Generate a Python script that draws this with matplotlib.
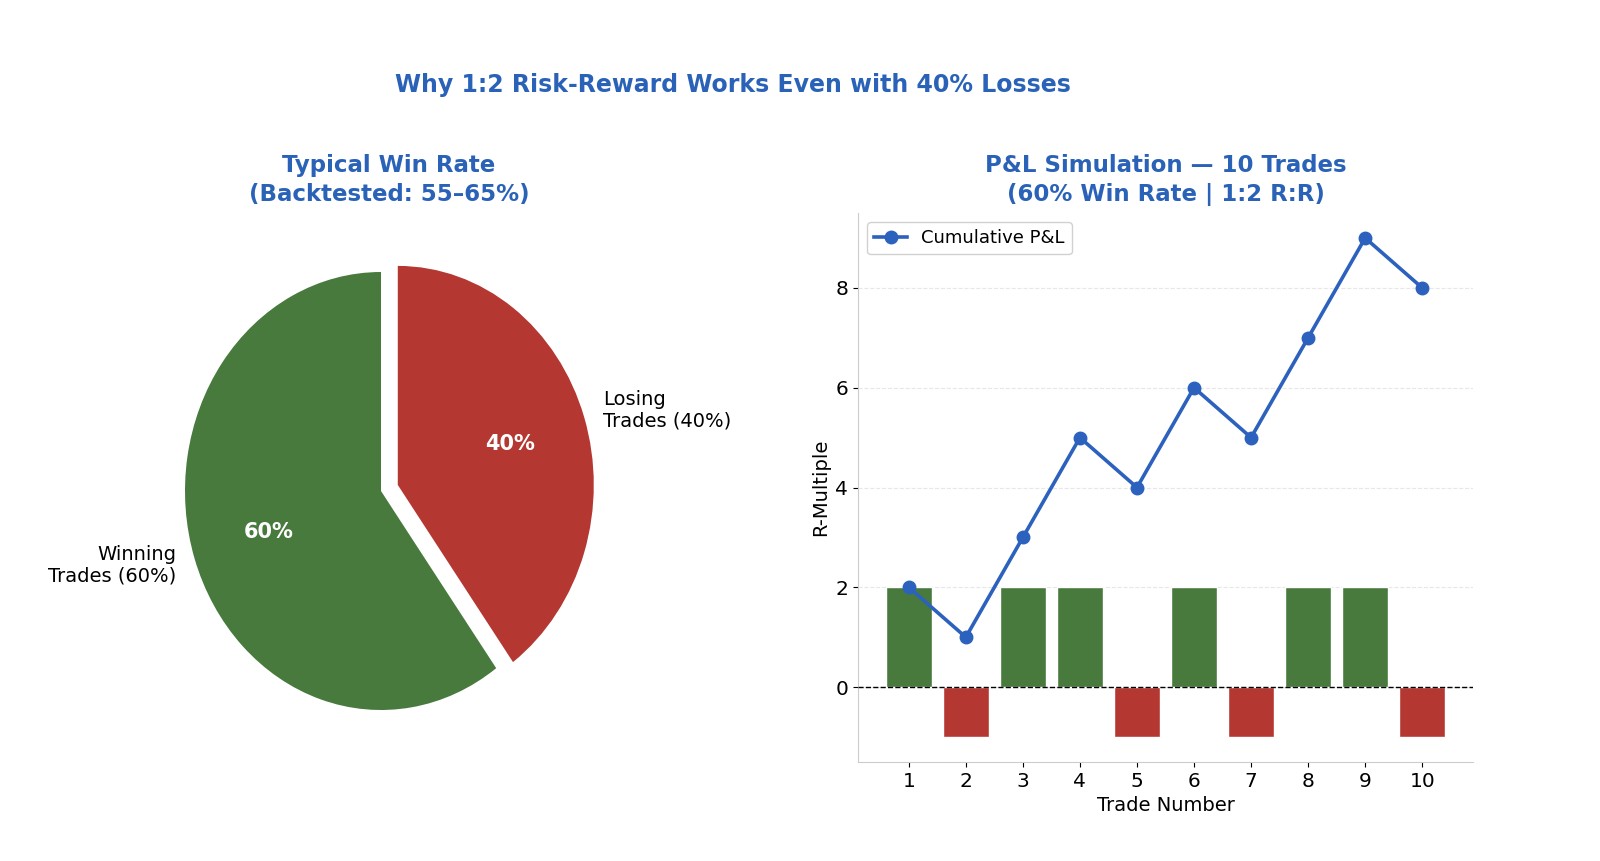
import numpy as np
import matplotlib; matplotlib.use("Agg")
import matplotlib.pyplot as plt

# data
pie_labels = ["Winning\nTrades (60%)", "Losing\nTrades (40%)"]
pie_shares = [60, 40]
trades = [1, 2, 3, 4, 5, 6, 7, 8, 9, 10]
trade_r = [2, -1, 2, 2, -1, 2, -1, 2, 2, -1]
cum_pnl = [2, 1, 3, 5, 4, 6, 5, 7, 9, 8]

GREEN = "#477a3c"; RED = "#b53731"; BLUE = "#2c62bd"; TITLE = "#2a62b8"
plt.rcParams["font.family"] = "DejaVu Sans"

fig = plt.figure(figsize=(16, 8.61), dpi=100)
W, H = 1600, 861

# --- pie (slightly squashed horizontally like the reference) ---
cx, cy, rx, ry = 381, 491, 196, 219
xl, yl = 1.9, 1.25
ax1 = fig.add_axes([(cx - xl*rx)/W, (H - cy - yl*ry)/H, 2*xl*rx/W, 2*yl*ry/H])
wedges, texts, autotexts = ax1.pie(pie_shares, labels=pie_labels, colors=[GREEN, RED],
                                   explode=(0, 0.09), startangle=90, autopct="%1.0f%%",
                                   pctdistance=0.6, labeldistance=1.1,
                                   textprops={"fontsize": 14})
for t in autotexts:
    t.set_color("white"); t.set_fontweight("bold"); t.set_fontsize(15)
ax1.set_aspect("auto")
ax1.set_xlim(-xl, xl); ax1.set_ylim(-yl, yl)
ax1.axis("off")
fig.text(389/W, 1 - 180/H, "Typical Win Rate\n(Backtested: 55\u201365%)", ha="center", va="center",
         fontsize=16.5, fontweight="bold", color=TITLE, linespacing=1.35)

# --- P&L bars + cumulative line ---
ax2 = fig.add_axes([858/W, (H - 762)/H, (1473 - 858)/W, (762 - 213)/H])
bar_cols = [GREEN if v > 0 else RED for v in trade_r]
ax2.bar(trades, trade_r, width=0.8, color=bar_cols, edgecolor="white", linewidth=1, zorder=2)
ax2.axhline(0, color="black", ls="--", lw=1, zorder=3)
ax2.plot(trades, cum_pnl, "-o", color=BLUE, lw=2.6, ms=9, label="Cumulative P&L", zorder=4)
ax2.set_xticks(trades)
ax2.set_yticks([0, 2, 4, 6, 8])
ax2.tick_params(labelsize=14.5)
ax2.set_xlabel("Trade Number", fontsize=14)
ax2.set_ylabel("R-Multiple", fontsize=14)
ax2.grid(axis="y", ls="--", color="#dddddd", alpha=0.7, zorder=0)
ax2.set_axisbelow(True)
for s in ["top", "right"]:
    ax2.spines[s].set_visible(False)
for s in ["left", "bottom"]:
    ax2.spines[s].set_color("#cccccc")
ax2.legend(loc="upper left", fontsize=13, framealpha=0.9, handlelength=1.8)
fig.text(1166/W, 1 - 180/H, "P&L Simulation \u2014 10 Trades\n(60% Win Rate | 1:2 R:R)", ha="center",
         va="center", fontsize=16.5, fontweight="bold", color=TITLE, linespacing=1.35)

fig.text(733/W, 1 - 85/H, "Why 1:2 Risk-Reward Works Even with 40% Losses", ha="center", va="center",
         fontsize=17, fontweight="bold", color=TITLE)

fig.savefig("out.png", dpi=100)
